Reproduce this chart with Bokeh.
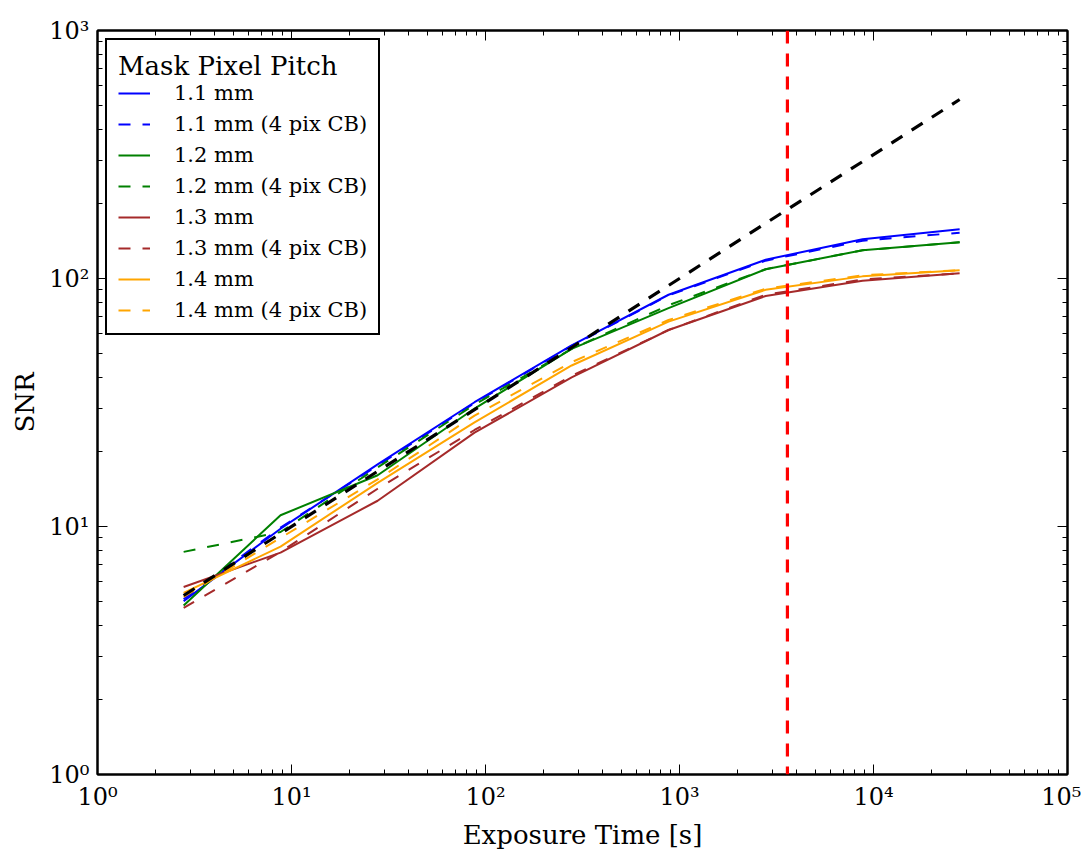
from bokeh.plotting import figure
from bokeh.models import Range1d, Span, FixedTicker, CustomJSTickFormatter, LogAxis
from bokeh.embed import file_html
from bokeh.resources import INLINE

# ---- data ----
exposure_s = [2.78, 8.78, 27.8, 87.8, 278, 878, 2780, 8780, 27800]

snr_11 = [5.0, 9.8, 17.8, 31.7, 53.7, 86, 119, 144, 158]
snr_11_cb = [5.1, 9.9, 17.6, 31.5, 53.5, 85.5, 118, 142, 153]
snr_12 = [4.8, 11.1, 16.1, 29.9, 52, 76, 109, 130, 140]
snr_12_cb = [7.9, 9.5, 17.3, 31, 52, 78, 109, 130, 140]
snr_13 = [5.7, 7.85, 12.7, 23.9, 39.9, 62, 85, 98, 105]
snr_13_cb = [4.7, 7.9, 14.2, 24.5, 40.5, 62, 86, 99, 105]
snr_14 = [5.4, 8.3, 15.0, 26.3, 44.6, 67, 90, 102, 108]
snr_14_cb = [5.2, 9.0, 15.5, 28, 46, 68, 91, 103, 108]
snr_ideal = [5.27, 9.37, 16.7, 29.6, 52.7, 93.7, 167, 296, 527]

series_labels = ["1.1 mm", "1.1 mm (4 pix CB)", "1.2 mm", "1.2 mm (4 pix CB)",
                 "1.3 mm", "1.3 mm (4 pix CB)", "1.4 mm", "1.4 mm (4 pix CB)"]
series_values = [snr_11, snr_11_cb, snr_12, snr_12_cb, snr_13, snr_13_cb, snr_14, snr_14_cb]
series_colors = ["#0000ff", "#0000ff", "#008000", "#008000",
                 "#a52a2a", "#a52a2a", "#ffa500", "#ffa500"]
series_dashed = [False, True, False, True, False, True, False, True]

obs_time_s = 3600
legend_title = "Mask Pixel Pitch"
x_label = "Exposure Time [s]"
y_label = "SNR"

FONT = "DejaVu Serif"

p = figure(x_axis_type="log", y_axis_type="log",
           x_range=Range1d(1, 1e5), y_range=Range1d(1, 1e3),
           frame_width=970, frame_height=744,
           min_border_left=97, min_border_top=30, min_border_right=14, min_border_bottom=60,
           output_backend="svg", toolbar_location=None)

p.xgrid.visible = False
p.ygrid.visible = False
p.outline_line_color = "black"
p.outline_line_width = 2
p.outline_line_alpha = 1.0
p.background_fill_color = "white"
p.border_fill_color = "white"

for vals, lab, col, dashed in zip(series_values, series_labels, series_colors, series_dashed):
    p.line(exposure_s, vals, line_color=col, line_width=2,
           line_dash="12 12" if dashed else "solid", legend_label=lab)

p.line(exposure_s, snr_ideal, line_color="black", line_width=3.2, line_dash="13 11")
p.add_layout(Span(location=obs_time_s, dimension="height", line_color="red",
                  line_width=3.2, line_dash="13 10"))

sup_code = """
const sup = {'0':'\u2070','1':'\u00b9','2':'\u00b2','3':'\u00b3','4':'\u2074','5':'\u2075',
             '6':'\u2076','7':'\u2077','8':'\u2078','9':'\u2079','-':'\u207b'};
const e = Math.round(Math.log10(tick));
return '10' + String(e).split('').map(c => sup[c]).join('');
"""
fmt = CustomJSTickFormatter(code=sup_code)
blank = CustomJSTickFormatter(code="return '';")

x_major = [10 ** k for k in range(6)]
x_minor = [m * 10 ** k for k in range(5) for m in range(2, 10)]
y_major = [10 ** k for k in range(4)]
y_minor = [m * 10 ** k for k in range(3) for m in range(2, 10)]
xt = FixedTicker(ticks=x_major, minor_ticks=x_minor)
yt = FixedTicker(ticks=y_major, minor_ticks=y_minor)


def style_axis(ax, show_labels):
    ax.major_tick_in = 10
    ax.major_tick_out = 0
    ax.minor_tick_in = 5
    ax.minor_tick_out = 0
    ax.major_tick_line_color = "black"
    ax.minor_tick_line_color = "black"
    ax.major_tick_line_width = 1
    ax.minor_tick_line_width = 1
    ax.axis_line_color = "black"
    ax.axis_line_width = 2
    ax.major_label_text_font = FONT
    ax.axis_label_text_font = FONT
    ax.axis_label_text_font_style = "normal"
    ax.axis_label_text_color = "black"
    ax.major_label_text_color = "black"
    if show_labels:
        ax.major_label_text_font_size = "24px"
        ax.axis_label_text_font_size = "26px"
        ax.major_label_standoff = 8
        ax.axis_label_standoff = 6
    else:
        ax.major_label_text_font_size = "0px"
        ax.major_label_standoff = 0


p.xaxis.ticker = xt
p.yaxis.ticker = yt
p.xaxis.formatter = fmt
p.yaxis.formatter = fmt
p.xaxis.axis_label = x_label
p.yaxis.axis_label = y_label
style_axis(p.xaxis[0], True)
style_axis(p.yaxis[0], True)
p.yaxis.major_label_orientation = "horizontal"

top_ax = LogAxis(ticker=xt, formatter=blank)
right_ax = LogAxis(ticker=yt, formatter=blank)
style_axis(top_ax, False)
style_axis(right_ax, False)
p.add_layout(top_ax, "above")
p.add_layout(right_ax, "right")

lg = p.legend[0]
lg.title = legend_title
lg.title_text_font = FONT
lg.title_text_font_size = "26px"
lg.title_text_font_style = "normal"
lg.title_text_color = "black"
lg.title_standoff = 0
lg.label_text_font = FONT
lg.label_text_font_size = "21px"
lg.label_text_color = "black"
lg.location = "top_left"
lg.margin = 8
lg.padding = 11
lg.spacing = 7
lg.glyph_width = 32
lg.glyph_height = 22
lg.label_height = 22
lg.label_standoff = 24
lg.border_line_color = "black"
lg.border_line_alpha = 1.0
lg.border_line_width = 2
lg.background_fill_color = "white"
lg.background_fill_alpha = 1.0

open("out.html", "w").write(file_html(p, INLINE))
